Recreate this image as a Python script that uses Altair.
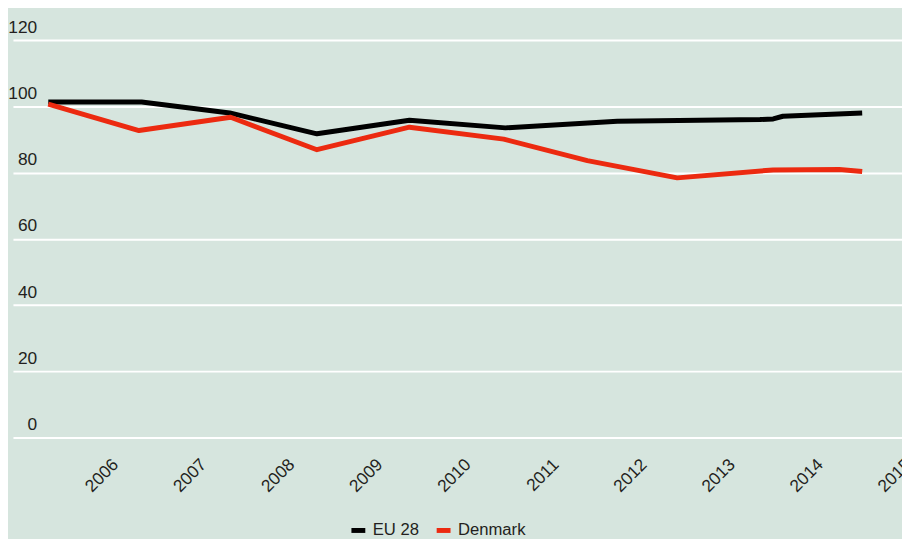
import altair as alt
import pandas as pd

# Series (x in fractional years, y index values)
eu_years = [2005.31, 2006.37, 2007.37, 2008.36, 2009.41, 2010.50, 2011.77, 2013.39, 2013.54, 2013.65, 2014.55]
eu_values = [101.3, 101.3, 98.0, 91.7, 95.8, 93.5, 95.5, 96.0, 96.2, 97.0, 98.0]

dk_years = [2005.31, 2006.34, 2007.38, 2008.36, 2009.41, 2010.48, 2011.43, 2012.45, 2013.54, 2014.29, 2014.55]
dk_values = [100.7, 92.7, 96.7, 86.9, 93.7, 90.1, 83.6, 78.4, 80.8, 80.9, 80.3]

series_names = ["EU 28", "Denmark"]
series_colors = ["#000000", "#ec2a10"]
x_ticks = list(range(2006, 2016))
y_ticks = [0, 20, 40, 60, 80, 100, 120]

df = pd.concat([
    pd.DataFrame({"year": eu_years, "value": eu_values, "series": "EU 28", "order": 0}),
    pd.DataFrame({"year": dk_years, "value": dk_values, "series": "Denmark", "order": 1}),
], ignore_index=True)

FONT = "Liberation Sans"
TXT = "#231f20"

chart = alt.Chart(df).mark_line(strokeWidth=5, strokeJoin="round").encode(
    x=alt.X("year:Q",
            scale=alt.Scale(domain=[2004.909, 2015.002], nice=False, zero=False),
            axis=alt.Axis(values=x_ticks, format="d", title=None, grid=False,
                          domain=False, ticks=False, tickSize=0,
                          labelAngle=-45, labelAlign="right", labelBaseline="top",
                          labelPadding=18, labelFlush=False, labelOverlap=False,
                          labelFont=FONT, labelFontSize=17.5, labelColor=TXT)),
    y=alt.Y("value:Q",
            scale=alt.Scale(domain=[0, 120], nice=False),
            axis=alt.Axis(values=y_ticks, title=None, grid=True, gridColor="white",
                          gridWidth=2, gridOpacity=1, domain=False, ticks=False,
                          tickSize=0, labelAlign="right", labelBaseline="alphabetic",
                          labelPadding=-24, labelOffset=-8, labelFlush=False,
                          labelFont=FONT, labelFontSize=17.5, labelColor=TXT)),
    color=alt.Color("series:N",
                    scale=alt.Scale(domain=series_names, range=series_colors),
                    legend=alt.Legend(title=None, orient="none", legendX=339, legendY=485,
                                      direction="horizontal", symbolType="stroke",
                                      symbolStrokeWidth=5, symbolSize=196,
                                      labelFont=FONT, labelFontSize=16.8, labelColor=TXT,
                                      labelOffset=5, columnPadding=7)),
    order=alt.Order("order:Q"),
).properties(
    width=897,
    height=401,
    autosize=alt.AutoSizeParams(type="none"),
    padding={"left": 5, "top": 30, "right": 0, "bottom": 100},
    background="#d6e5de",
).configure_view(stroke=None)

chart.save("out.html", embed_options={"renderer": "svg", "actions": False})
